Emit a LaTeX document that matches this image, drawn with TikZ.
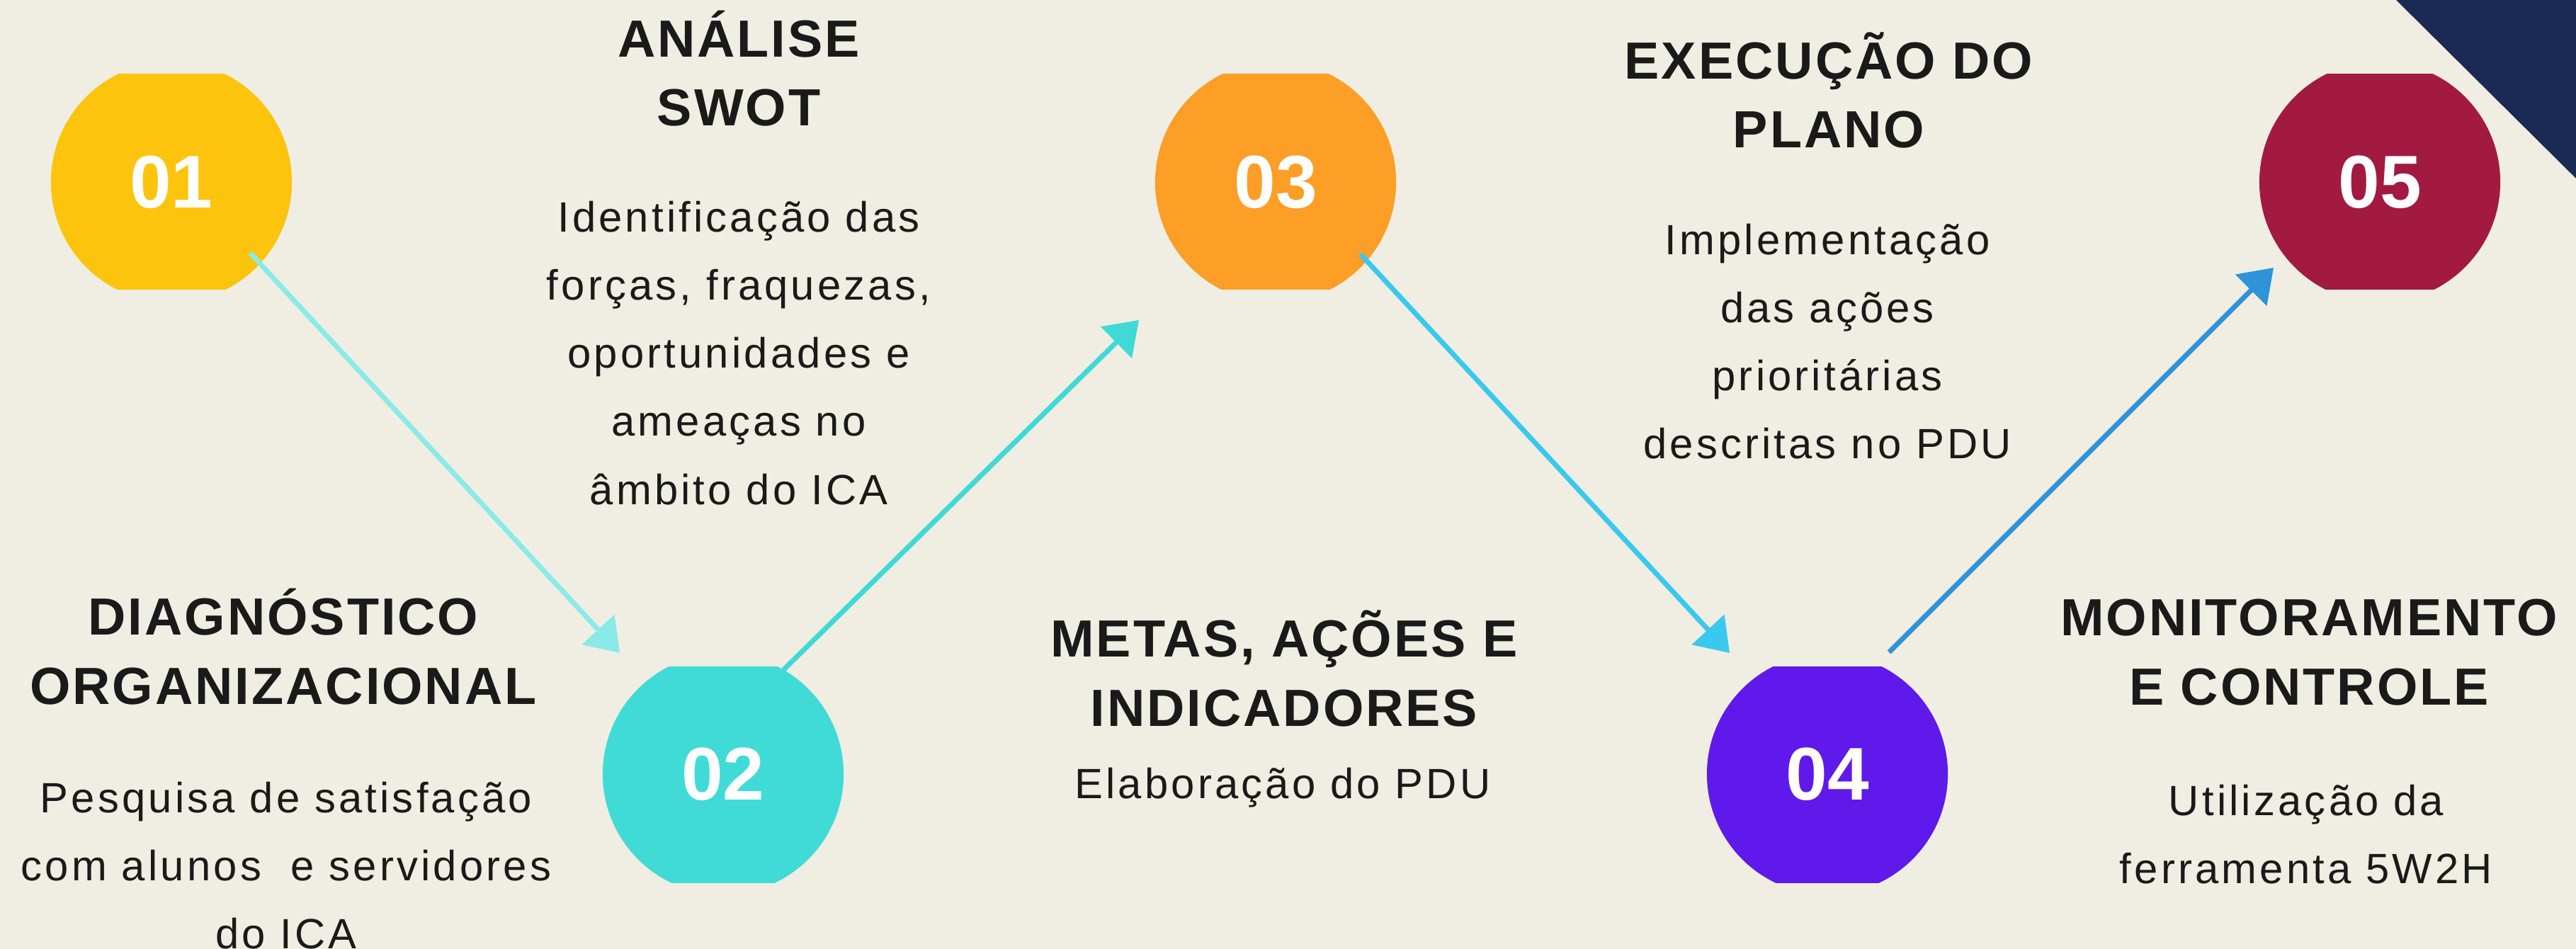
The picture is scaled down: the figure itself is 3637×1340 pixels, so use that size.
\documentclass[tikz,border=0pt]{standalone}
\usepackage{fontspec}
\setmainfont{Liberation Sans}
\newfontfamily\headfont[LetterSpace=4]{Liberation Sans}
\newfontfamily\plainfont[LetterSpace=7]{Liberation Sans}
\usepackage{tikz}
\usetikzlibrary{arrows.meta}
\definecolor{paper}{HTML}{F0EEE2}
\definecolor{navy}{HTML}{1B2955}
\definecolor{ink}{HTML}{1A1A1A}
\definecolor{cone}{HTML}{FCC40C}
\definecolor{ctwo}{HTML}{41DBD7}
\definecolor{cthree}{HTML}{FD9E27}
\definecolor{cfour}{HTML}{5F19EA}
\definecolor{cfive}{HTML}{A21A42}
\definecolor{aone}{HTML}{8AEAE8}
\definecolor{atwo}{HTML}{40D9D6}
\definecolor{athree}{HTML}{3AC9EE}
\definecolor{afour}{HTML}{2E93D8}
\tikzstyle{disc}=[circle, inner sep=0pt, minimum size=3.4cm, text=white, font=\bfseries\fontsize{30}{30}\selectfont]
\tikzstyle{headtext}=[anchor=base, align=center, text=ink, font=\headfont\bfseries\fontsize{21}{27.6}\selectfont]
\tikzstyle{bodytext}=[anchor=base, align=center, text=ink, font=\plainfont\fontsize{17}{27.3}\selectfont]
\tikzstyle{steparrow}=[-{Triangle[length=12.8pt,width=17.4pt]}, line width=2pt]

\begin{document}
\begin{tikzpicture}[x=0.01cm, y=-0.01cm]
        \useasboundingbox (0,0) rectangle (3637,1340);
        \fill[paper] (0,0) rectangle (3637,1340);
        \fill[navy] (3383,0) -- (3637,0) -- (3637,252) -- cycle;
        \begin{scope}
          \clip (0,105) rectangle (3637,409);
          \node[disc, fill=cone] (n01) at (242,257) {01};
          \node[disc, fill=cthree] (n03) at (1801,257) {03};
          \node[disc, fill=cfive] (n05) at (3360,257) {05};
        \end{scope}
        \begin{scope}
          \clip (0,941) rectangle (3637,1246);
          \node[disc, fill=ctwo] (n02) at (1021,1093) {02};
          \node[disc, fill=cfour] (n04) at (2580,1093) {04};
        \end{scope}
        \draw[steparrow, aone] ([shift={(111,100)}]n01.center) -- ([shift={(-146,-171)}]n02.center);
        \draw[steparrow, atwo] ([shift={(85,-147)}]n02.center) -- ([shift={(-193,195)}]n03.center);
        \draw[steparrow, athree] ([shift={(120,102)}]n03.center) -- ([shift={(-138,-171)}]n04.center);
        \draw[steparrow, afour] ([shift={(87,-172)}]n04.center) -- ([shift={(-150,121)}]n05.center);
        \node[headtext] (diaghead) at (400,994) {DIAGNÓSTICO\\ORGANIZACIONAL};
        \node[bodytext] (diagbody) at (404,1339) {Pesquisa de satisfação\\com alunos~ e servidores\\do ICA};
        \node[headtext] (swothead) at (1043,178) {ANÁLISE\\SWOT};
        \node[bodytext] (swotbody) at (1043,712) {Identificação das\\forças, fraquezas,\\oportunidades e\\ameaças no\\âmbito do ICA};
        \node[headtext] (metahead) at (1813,1025) {METAS, AÇÕES E\\INDICADORES};
        \node[bodytext] (metabody) at (1811,1127) {Elaboração do PDU};
        \node[headtext] (exechead) at (2582,209) {EXECUÇÃO DO\\PLANO};
        \node[bodytext] (execbody) at (2580,648) {Implementação\\das ações\\prioritárias\\descritas no PDU};
        \node[headtext] (monihead) at (3260,995) {MONITORAMENTO\\E CONTROLE};
        \node[bodytext] (monibody) at (3256,1247) {Utilização da\\ferramenta 5W2H};
      \end{tikzpicture}
\end{document}
